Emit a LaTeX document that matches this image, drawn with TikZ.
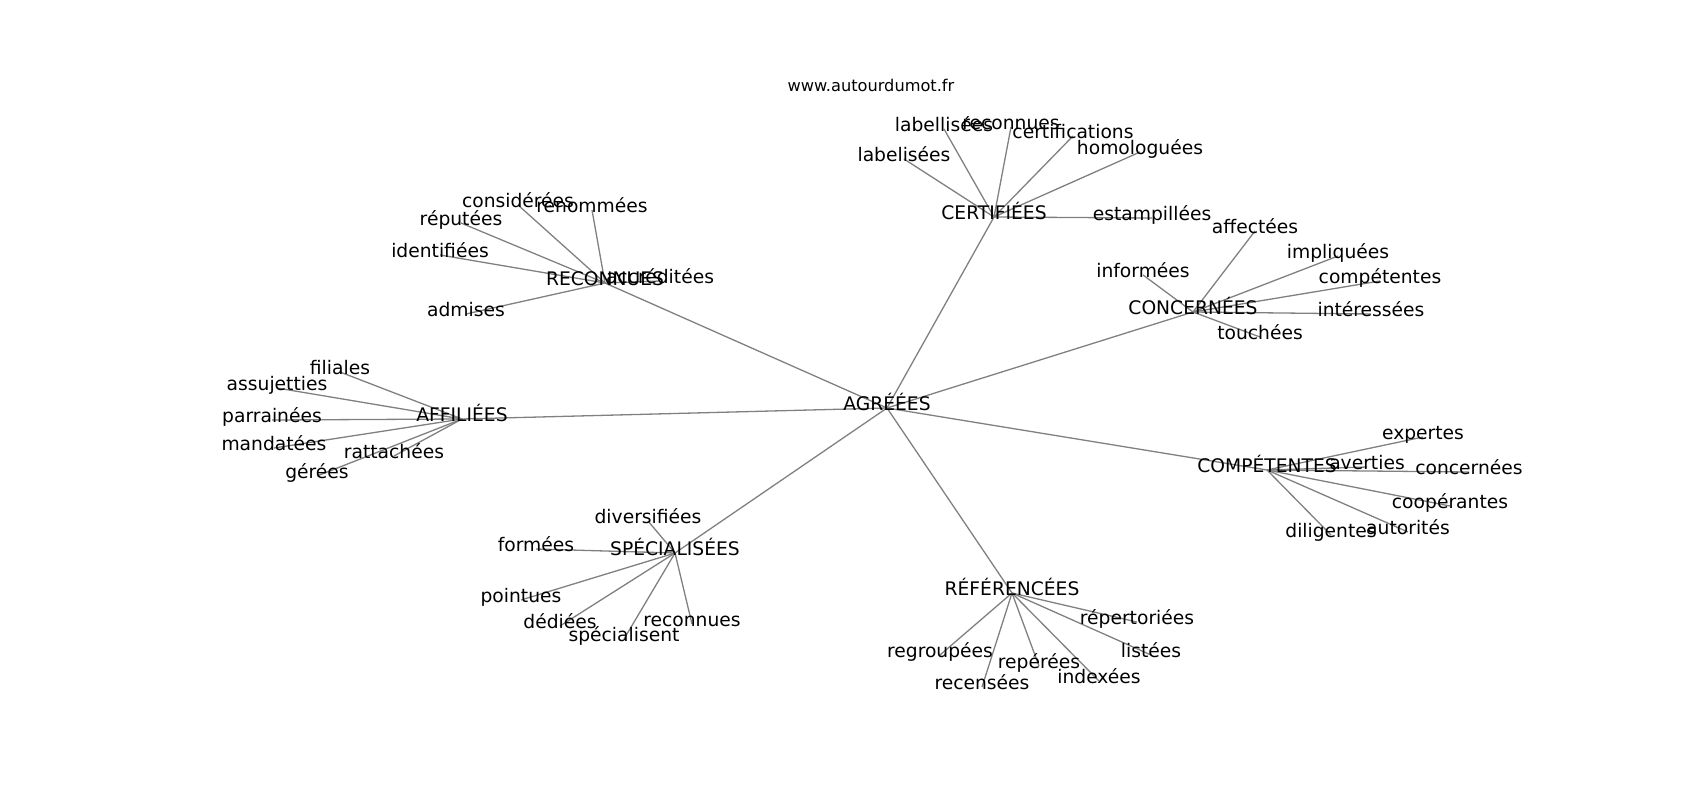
\documentclass[tikz,border=0pt]{standalone}
\usepackage{fontspec}
\setmainfont{DejaVu Sans}
\usepackage{tikz}
\usetikzlibrary{backgrounds}
\tikzstyle{mot} = [inner sep=0pt, text height=0.76em, text depth=0.18em, font=\fontsize{18.7}{22}\selectfont]
\tikzstyle{link} = [draw=gray, line width=1.3pt]

\begin{document}
\begin{tikzpicture}[x=1pt, y=-1pt]
			\useasboundingbox (0,-2) rectangle (1700,798);
			% Title
			\node (site) [inner sep=0pt, font=\fontsize{16.2}{19}\selectfont] at (871,83) {www.autourdumot.fr};
			% Hubs
			\node (agr) [mot] at (887,406) {AGRÉÉES};
			\node (cert) [mot] at (994,215) {CERTIFIÉES};
			\node (reco) [mot] at (605,281) {RECONNUES};
			\node (conc) [mot] at (1193,310) {CONCERNÉES};
			\node (affil) [mot] at (462,417) {AFFILIÉES};
			\node (comp) [mot] at (1267,468) {COMPÉTENTES};
			\node (spec) [mot] at (675,551) {SPÉCIALISÉES};
			\node (ref) [mot] at (1012,591) {RÉFÉRENCÉES};
			% Words around CERTIFIÉES
			\node (labellisees) [mot] at (944,127) {labellisées};
			\node (reconnuesA) [mot] at (1011,125) {reconnues};
			\node (certifications) [mot] at (1073,134) {certifications};
			\node (homologuees) [mot] at (1140,150) {homologuées};
			\node (labelisees) [mot] at (904,157) {labelisées};
			\node (estampillees) [mot] at (1152,216) {estampillées};
			% Words around RECONNUES
			\node (considerees) [mot] at (518,203) {considérées};
			\node (renommees) [mot] at (592,208) {renommées};
			\node (reputees) [mot] at (461,221) {réputées};
			\node (identifiees) [mot] at (440,253) {identifiées};
			\node (accreditees) [mot] at (660,279) {accréditées};
			\node (admises) [mot] at (466,312) {admises};
			% Words around CONCERNÉES
			\node (affectees) [mot] at (1255,229) {affectées};
			\node (impliquees) [mot] at (1338,254) {impliquées};
			\node (informees) [mot] at (1143,273) {informées};
			\node (competentes) [mot] at (1380,279) {compétentes};
			\node (interessees) [mot] at (1371,312) {intéressées};
			\node (touchees) [mot] at (1260,335) {touchées};
			% Words around AFFILIÉES
			\node (filiales) [mot] at (340,370) {filiales};
			\node (assujetties) [mot] at (277,386) {assujetties};
			\node (parrainees) [mot] at (272,418) {parrainées};
			\node (mandatees) [mot] at (274,446) {mandatées};
			\node (rattachees) [mot] at (394,454) {rattachées};
			\node (gerees) [mot] at (317,474) {gérées};
			% Words around COMPÉTENTES
			\node (expertes) [mot] at (1423,435) {expertes};
			\node (averties) [mot] at (1367,465) {averties};
			\node (concernees) [mot] at (1469,470) {concernées};
			\node (cooperantes) [mot] at (1450,504) {coopérantes};
			\node (diligentes) [mot] at (1331,533) {diligentes};
			\node (autorites) [mot] at (1408,530) {autorités};
			% Words around SPÉCIALISÉES
			\node (diversifiees) [mot] at (648,519) {diversifiées};
			\node (formees) [mot] at (536,547) {formées};
			\node (pointues) [mot] at (521,598) {pointues};
			\node (dediees) [mot] at (560,624) {dédiées};
			\node (reconnuesB) [mot] at (692,622) {reconnues};
			\node (specialisent) [mot] at (624,637) {spécialisent};
			% Words around RÉFÉRENCÉES
			\node (repertoriees) [mot] at (1137,620) {répertoriées};
			\node (regroupees) [mot] at (940,653) {regroupées};
			\node (listees) [mot] at (1151,653) {listées};
			\node (reperees) [mot] at (1039,664) {repérées};
			\node (indexees) [mot] at (1099,679) {indexées};
			\node (recensees) [mot] at (982,685) {recensées};
			% Lines
			\begin{scope}[on background layer]
			\draw [link] (agr.center) -- (cert.center);
			\draw [link] (agr.center) -- (reco.center);
			\draw [link] (agr.center) -- (conc.center);
			\draw [link] (agr.center) -- (affil.center);
			\draw [link] (agr.center) -- (comp.center);
			\draw [link] (agr.center) -- (spec.center);
			\draw [link] (agr.center) -- (ref.center);
			\draw [link] (cert.center) -- (labellisees.center);
			\draw [link] (cert.center) -- (reconnuesA.center);
			\draw [link] (cert.center) -- (certifications.center);
			\draw [link] (cert.center) -- (homologuees.center);
			\draw [link] (cert.center) -- (labelisees.center);
			\draw [link] (cert.center) -- (estampillees.center);
			\draw [link] (reco.center) -- (considerees.center);
			\draw [link] (reco.center) -- (renommees.center);
			\draw [link] (reco.center) -- (reputees.center);
			\draw [link] (reco.center) -- (identifiees.center);
			\draw [link] (reco.center) -- (accreditees.center);
			\draw [link] (reco.center) -- (admises.center);
			\draw [link] (conc.center) -- (affectees.center);
			\draw [link] (conc.center) -- (impliquees.center);
			\draw [link] (conc.center) -- (informees.center);
			\draw [link] (conc.center) -- (competentes.center);
			\draw [link] (conc.center) -- (interessees.center);
			\draw [link] (conc.center) -- (touchees.center);
			\draw [link] (affil.center) -- (filiales.center);
			\draw [link] (affil.center) -- (assujetties.center);
			\draw [link] (affil.center) -- (parrainees.center);
			\draw [link] (affil.center) -- (mandatees.center);
			\draw [link] (affil.center) -- (rattachees.center);
			\draw [link] (affil.center) -- (gerees.center);
			\draw [link] (comp.center) -- (expertes.center);
			\draw [link] (comp.center) -- (averties.center);
			\draw [link] (comp.center) -- (concernees.center);
			\draw [link] (comp.center) -- (cooperantes.center);
			\draw [link] (comp.center) -- (diligentes.center);
			\draw [link] (comp.center) -- (autorites.center);
			\draw [link] (spec.center) -- (diversifiees.center);
			\draw [link] (spec.center) -- (formees.center);
			\draw [link] (spec.center) -- (pointues.center);
			\draw [link] (spec.center) -- (dediees.center);
			\draw [link] (spec.center) -- (reconnuesB.center);
			\draw [link] (spec.center) -- (specialisent.center);
			\draw [link] (ref.center) -- (repertoriees.center);
			\draw [link] (ref.center) -- (regroupees.center);
			\draw [link] (ref.center) -- (listees.center);
			\draw [link] (ref.center) -- (reperees.center);
			\draw [link] (ref.center) -- (indexees.center);
			\draw [link] (ref.center) -- (recensees.center);
			\end{scope}
		\end{tikzpicture}
\end{document}
